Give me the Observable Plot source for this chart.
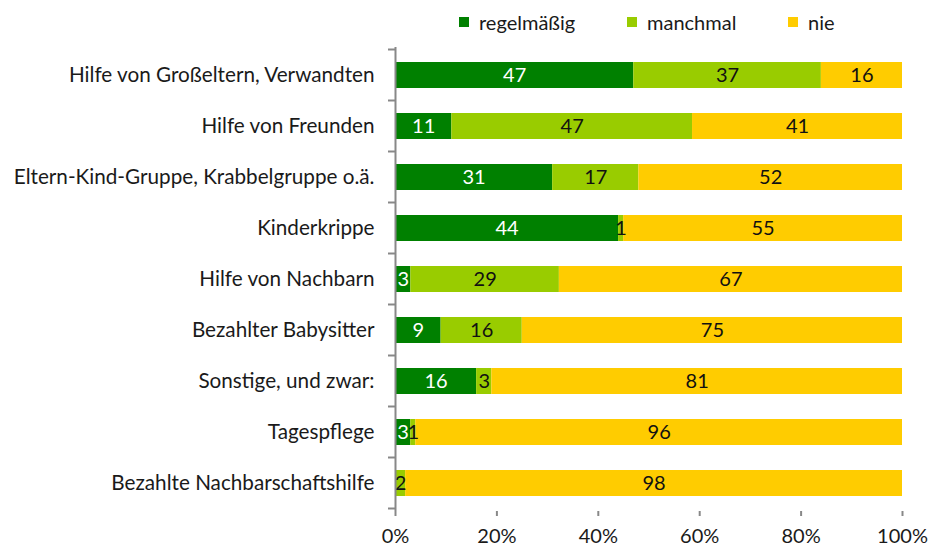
<!DOCTYPE html>
<html><head><meta charset="utf-8">
<script src="https://cdn.jsdelivr.net/npm/d3@7"></script>
<script src="https://cdn.jsdelivr.net/npm/@observablehq/plot@0.6"></script>
<style>
html,body{margin:0;padding:0;background:#fff;font-family:Lato,sans-serif;overflow:hidden;}
#legend{height:40px;position:relative;font-size:20px;color:#1a1a1a;}
#legend .item{position:absolute;top:10px;display:flex;align-items:center;}
#legend .sw{width:10px;height:10px;margin-right:10px;display:inline-block;}
#chart svg{display:block;}
</style></head><body>
<div id="legend"></div>
<div id="chart"></div>
<script>
const categories = ["Hilfe von Großeltern, Verwandten","Hilfe von Freunden","Eltern-Kind-Gruppe, Krabbelgruppe o.ä.","Kinderkrippe","Hilfe von Nachbarn","Bezahlter Babysitter","Sonstige, und zwar:","Tagespflege","Bezahlte Nachbarschaftshilfe"];
const series = ["regelmäßig","manchmal","nie"];
const regelmaessig = [47,11,31,44,3,9,16,3,0];
const manchmal = [37,47,17,1,29,16,3,1,2];
const nie = [16,41,52,55,67,75,81,96,98];
const colors = ["#008000","#99cc00","#ffcc00"];
const xTicks = [0,20,40,60,80,100];

const seriesValues = [regelmaessig, manchmal, nie];
const rows = categories.flatMap((c,i)=>series.map((s,j)=>({cat:c, s, v:seriesValues[j][i]})));

// legend
const legendLeft = [459, 627, 788];
const lg = d3.select("#legend");
series.forEach((s,j)=>{
  const it = lg.append("div").attr("class","item").style("left", legendLeft[j]+"px");
  it.append("span").attr("class","sw").style("background", colors[j]);
  it.append("span").text(s);
});

const stackOpts = {offset:"normalize", x:"v", y:"cat", z:"s"};
const chart = Plot.plot({
  width:933, height:508,
  marginLeft:395, marginRight:31, marginTop:7, marginBottom:37,
  style:{fontFamily:"Lato, sans-serif", fontSize:"20px", color:"#1a1a1a", background:"#fff"},
  x:{domain:[0,1], label:null},
  y:{domain:categories, paddingInner:0.49, paddingOuter:0.245, label:null},
  color:{domain:series, range:colors},
  marks:[
    Plot.barX(rows, Plot.stackX({...stackOpts, fill:"s"})),
    Plot.text(rows, Plot.stackX({...stackOpts, text:d=>d.s===series[0]&&d.v>0?String(d.v):"", fill:"white", fontSize:20})),
    Plot.text(rows, Plot.stackX({...stackOpts, text:d=>d.s!==series[0]&&d.v>0?String(d.v):"", fill:"#111", fontSize:20})),
    Plot.axisY({tickSize:0, tickPadding:21, fontSize:20.7, fill:"#1a1a1a"}),
    Plot.axisX({ticks:xTicks.map(t=>t/100), tickFormat:d=>Math.round(d*100)+"%", tickSize:5, tickPadding:12, stroke:"#888", strokeWidth:2, fontSize:20, fill:"#1a1a1a"}),
    Plot.ruleX([0], {stroke:"#888", strokeWidth:2}),
    Plot.ruleY([0], {stroke:"#888", strokeWidth:2})
  ]
});
document.getElementById("chart").appendChild(chart);

// band boundary ticks on the y axis
const ys = chart.scale("y");
const xs = chart.scale("x");
const x0 = xs.apply(0);
const gap = (ys.step - ys.bandwidth)/2;
const bounds = categories.map(c=>ys.apply(c)-gap).concat([ys.apply(categories[categories.length-1])+ys.bandwidth+gap]);
d3.select(chart).append("g").selectAll("line").data(bounds).join("line")
  .attr("x1", x0-7).attr("x2", x0).attr("y1", d=>d).attr("y2", d=>d)
  .attr("stroke", "#888").attr("stroke-width", 2);
</script>
</body></html>
